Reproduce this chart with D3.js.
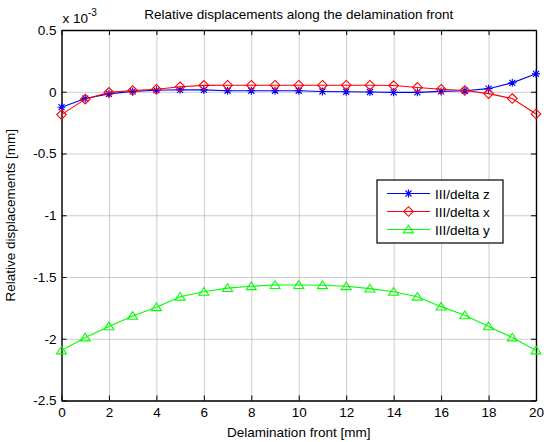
<!DOCTYPE html>
<html>
<head>
<meta charset="utf-8">
<script src="https://cdn.jsdelivr.net/npm/d3@7"></script>
<style>
body { margin: 0; background: #fff; }
svg { font-family: "Liberation Sans", Arial, sans-serif; }
.axis path, .axis line { stroke: #000; }
.grid line { stroke: #9a9a9a; stroke-dasharray: 1,1; }
.grid path { display: none; }
</style>
</head>
<body>
<svg id="chart" width="544" height="442"></svg>
<script>
// data (values in units of 1e-3 mm)
var positions = d3.range(0, 21);
var deltaZ = [-0.125, -0.055, -0.017, 0.003, 0.012, 0.016, 0.015, 0.008, 0.008, 0.008, 0.008,
	0.002, 0.0, -0.002, -0.005, -0.005, 0.003, 0.008, 0.025, 0.072, 0.145];
var deltaX = [-0.185, -0.06, -0.005, 0.01, 0.02, 0.04, 0.052, 0.053, 0.053, 0.053, 0.053,
	0.053, 0.053, 0.053, 0.05, 0.035, 0.02, 0.01, -0.015, -0.055, -0.18];
var deltaY = [-2.095, -1.99, -1.9, -1.815, -1.745, -1.66, -1.62, -1.59, -1.575, -1.565, -1.565,
	-1.567, -1.575, -1.594, -1.62, -1.66, -1.74, -1.81, -1.9, -1.99, -2.095];
var xTicks = [0, 2, 4, 6, 8, 10, 12, 14, 16, 18, 20];
var yTicks = [0.5, 0, -0.5, -1, -1.5, -2, -2.5];
var seriesNames = ["III/delta z", "III/delta x", "III/delta y"];

var pLeft = 61.5, pRight = 536, pTop = 30, pBottom = 400.5;
var w = pRight - pLeft, h = pBottom - pTop;
var fs = "13.5px";

var svg = d3.select("#chart");

var x = d3.scaleLinear().domain([0, 20]).range([pLeft, pRight]);
var y = d3.scaleLinear().domain([-2.5, 0.5]).range([pBottom, pTop]);

var fmt = function(d){ return String(d); };

// grid
svg.append("g")
	.attr("class", "grid")
	.attr("transform", "translate(0," + pBottom + ")")
	.call(d3.axisBottom(x).tickValues(xTicks).tickSize(-h).tickFormat(""));
svg.append("g")
	.attr("class", "grid")
	.attr("transform", "translate(" + pLeft + ",0)")
	.call(d3.axisLeft(y).tickValues(yTicks).tickSize(-w).tickFormat(""));

// axes, ticks inside
svg.append("g")
	.attr("class", "axis")
	.attr("transform", "translate(0," + pBottom + ")")
	.call(d3.axisBottom(x).tickValues(xTicks).tickSizeInner(-5).tickSizeOuter(0).tickPadding(7).tickFormat(fmt));
svg.append("g")
	.attr("class", "axis")
	.attr("transform", "translate(0," + pTop + ")")
	.call(d3.axisTop(x).tickValues(xTicks).tickSizeInner(-5).tickSizeOuter(0).tickFormat(""));
svg.append("g")
	.attr("class", "axis")
	.attr("transform", "translate(" + pLeft + ",0)")
	.call(d3.axisLeft(y).tickValues(yTicks).tickSizeInner(-5).tickSizeOuter(0).tickPadding(5).tickFormat(fmt));
svg.append("g")
	.attr("class", "axis")
	.attr("transform", "translate(" + pRight + ",0)")
	.call(d3.axisRight(y).tickValues(yTicks).tickSizeInner(-5).tickSizeOuter(0).tickFormat(""));

svg.selectAll(".axis text")
	.attr("font-size", fs)
	.attr("font-family", "Liberation Sans, Arial, sans-serif")
	.attr("fill", "#000");
svg.selectAll(".axis path").attr("stroke-width", 1.4);

// series
var line = function(vals){
	return d3.line()
		.x(function(d, i){ return x(positions[i]); })
		.y(function(d){ return y(d); })(vals);
};

var asterisk = "M-4,0H4M0,-4V4M-3,-3L3,3M-3,3L3,-3";
var diamond = "M0,-4.8L4.8,0L0,4.8L-4.8,0Z";
var triangle = "M0,-4.3L5,3.4L-5,3.4Z";

var series = [
	{ name: seriesNames[0], vals: deltaZ, color: "#0000ff", marker: asterisk },
	{ name: seriesNames[1], vals: deltaX, color: "#ff0000", marker: diamond },
	{ name: seriesNames[2], vals: deltaY, color: "#00ff00", marker: triangle }
];

var plot = svg.append("g");
series.forEach(function(s){
	plot.append("path")
		.attr("d", line(s.vals))
		.attr("fill", "none")
		.attr("stroke", s.color)
		.attr("stroke-width", 1.1);
	plot.selectAll(null)
		.data(s.vals)
		.enter()
		.append("path")
		.attr("transform", function(d, i){ return "translate(" + x(positions[i]) + "," + y(d) + ")"; })
		.attr("d", s.marker)
		.attr("fill", "none")
		.attr("stroke", s.color)
		.attr("stroke-width", 1.1);
});

// legend
var lg = svg.append("g").attr("transform", "translate(377,180)");
lg.append("rect")
	.attr("width", 126).attr("height", 63)
	.attr("fill", "#fff").attr("stroke", "#000").attr("stroke-width", 1.2);
series.forEach(function(s, i){
	var ry = 13.5 + i * 18;
	lg.append("line")
		.attr("x1", 10).attr("x2", 53).attr("y1", ry).attr("y2", ry)
		.attr("stroke", s.color).attr("stroke-width", 1.1);
	lg.append("path")
		.attr("transform", "translate(31.5," + ry + ")")
		.attr("d", s.marker)
		.attr("fill", "none").attr("stroke", s.color).attr("stroke-width", 1.1);
	lg.append("text")
		.attr("x", 58).attr("y", ry + 5)
		.attr("font-size", fs)
		.text(s.name);
});

// texts
svg.append("text")
	.attr("x", (pLeft + pRight) / 2).attr("y", 19)
	.attr("text-anchor", "middle").attr("font-size", fs)
	.text("Relative displacements along the delamination front");
svg.append("text")
	.attr("x", (pLeft + pRight) / 2).attr("y", 437)
	.attr("text-anchor", "middle").attr("font-size", fs)
	.text("Delamination front [mm]");
svg.append("text")
	.attr("transform", "translate(15," + ((pTop + pBottom) / 2) + ") rotate(-90)")
	.attr("text-anchor", "middle").attr("font-size", fs)
	.text("Relative displacements [mm]");
var ex = svg.append("text")
	.attr("x", pLeft + 1).attr("y", 23)
	.attr("font-size", fs);
ex.append("tspan").text("x 10");
ex.append("tspan").attr("font-size", "10px").attr("dy", -7).text("-3");
</script>
</body>
</html>
